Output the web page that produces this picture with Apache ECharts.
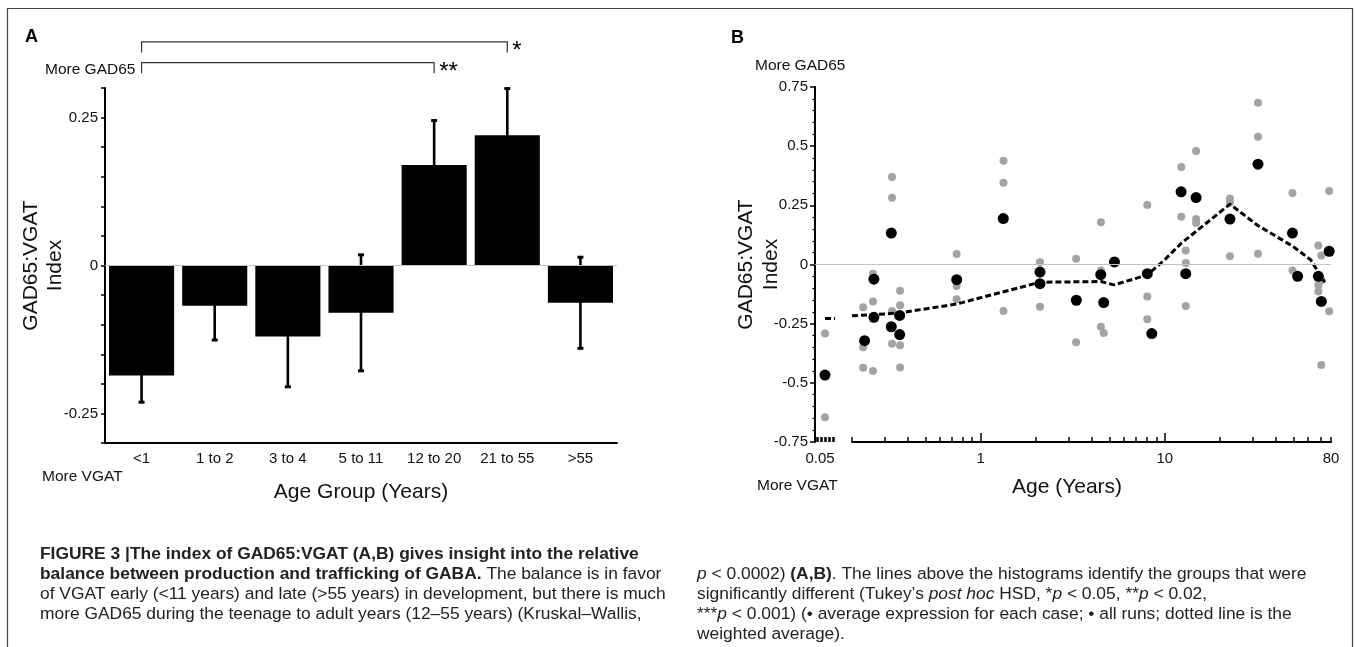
<!DOCTYPE html>
<html>
<head>
<meta charset="utf-8">
<script src="https://cdn.jsdelivr.net/npm/echarts@6/dist/echarts.min.js"></script>
<style>
  html, body { margin: 0; padding: 0; background: #fff; }
  #chart { width: 1356px; height: 647px; }
</style>
</head>
<body>
<div id="chart"></div>
<script>
// ---- panel A: group means with standard errors
const ageGroups = ["<1", "1 to 2", "3 to 4", "5 to 11", "12 to 20", "21 to 55", ">55"];
const groupMeans = [-0.186, -0.068, -0.120, -0.080, 0.170, 0.220, -0.063];
const groupErrors = [0.045, 0.058, 0.085, 0.098, 0.075, 0.079, 0.077];
// [from group, to group, height, stars]
const brackets = [
  [0, 5, 0.378, "*"],
  [0, 4, 0.343, "**"],
];

// ---- panel B: newborn segment (left of the axis break)
const newbornAge = 0.05;
const newbornRuns = [-0.292, -0.645];
const newbornCases = [-0.467];
const newbornWeighted = [[0.05, -0.228], [0.06, -0.228]];

// ---- panel B: all runs (grey) [age, index]
const runPoints = [
  [0.23, -0.181], [0.23, -0.350], [0.23, -0.436],
  [0.26, -0.039], [0.26, -0.156], [0.26, -0.450],
  [0.33, 0.370], [0.33, 0.282], [0.33, -0.196], [0.33, -0.335],
  [0.365, -0.111], [0.365, -0.172], [0.365, -0.341], [0.365, -0.435],
  [0.74, 0.044], [0.74, -0.091], [0.74, -0.147],
  [1.33, 0.438], [1.33, 0.345], [1.33, -0.196],
  [2.1, 0.010], [2.1, -0.179],
  [3.3, 0.024], [3.3, -0.329],
  [4.5, 0.178], [4.5, -0.025], [4.5, -0.263],
  [4.66, -0.289],
  [8.04, 0.251], [8.04, -0.135], [8.04, -0.231],
  [12.3, 0.412], [12.3, 0.202],
  [13.0, 0.059], [13.0, 0.006], [13.0, -0.175],
  [14.8, 0.480], [14.8, 0.192], [14.8, 0.175],
  [22.6, 0.279], [22.6, 0.262], [22.6, 0.035],
  [32.1, 0.683], [32.1, 0.540], [32.1, 0.045],
  [49.4, 0.302], [49.4, -0.025],
  [68.3, 0.080], [68.3, -0.088], [68.3, -0.114],
  [70.9, 0.038], [70.9, -0.067], [70.9, -0.425],
  [78.2, 0.311], [78.2, -0.198],
];

// ---- panel B: average for each case (black) [age, index]
const casePoints = [
  [0.234, -0.322], [0.263, -0.062], [0.263, -0.223],
  [0.327, 0.133], [0.327, -0.263], [0.363, -0.215], [0.363, -0.296],
  [0.741, -0.064], [1.327, 0.194],
  [2.1, -0.032], [2.1, -0.081], [3.31, -0.151],
  [4.49, -0.043], [4.66, -0.161], [5.33, 0.011],
  [8.04, -0.039], [8.5, -0.292],
  [12.27, 0.307], [13.0, -0.039], [14.8, 0.283],
  [22.6, 0.192], [32.1, 0.424], [49.4, 0.133],
  [52.7, -0.050], [68.3, -0.050], [70.9, -0.156], [78.2, 0.056],
];

// ---- panel B: weighted average (dotted line)
const weightedLine = [
  [0.2, -0.217], [0.26, -0.212], [0.36, -0.205], [0.74, -0.167],
  [2.1, -0.075], [4.5, -0.072], [5.3, -0.086], [8.0, -0.045],
  [10, 0.02], [12.3, 0.09], [14.8, 0.14], [22.6, 0.255],
  [32, 0.165], [49.4, 0.078], [62, 0.02], [68, -0.03], [74, -0.075],
];

const logMinorTicks = [0.2, 0.3, 0.4, 0.5, 0.6, 0.7, 0.8, 0.9, 2, 3, 4, 5, 6, 7, 8, 9, 20, 30, 40, 50, 60, 70, 80];
const logMajorTicks = [1, 10];
const logLabels = [1, 10, 80];
const breakHatch = [0.0425, 0.0465, 0.0505, 0.0545, 0.0585];

const FONT = "Liberation Sans, Arial, sans-serif";
const INK = "#111";
const RUN_GREY = "#a3a3a3";


function axisText(size) {
  return {
    color: INK,
    fontFamily: FONT,
    fontSize: size,
  };
}


function plainText(x, y, text, size, extra) {
  return {
    type: "text",
    x,
    y,
    silent: true,
    style: {
      text,
      fill: INK,
      fontFamily: FONT,
      fontSize: size,
      verticalAlign: "middle",
      ...extra,
    },
  };
}


function captionLine(x, y, text) {
  const base = {
    fontFamily: FONT,
    fontSize: 17.4,
  };

  return {
    type: "text",
    x,
    y,
    silent: true,
    style: {
      text,
      fill: "#222",
      ...base,
      verticalAlign: "middle",
      rich: {
        b: { ...base, fontWeight: "bold", fill: "#222" },
        i: { ...base, fontStyle: "italic", fill: "#222" },
      },
    },
  };
}


function zeroLine() {
  return {
    silent: true,
    symbol: "none",
    label: { show: false },
    lineStyle: { color: "#c4c4c4", width: 1.2, type: "solid" },
    data: [{ yAxis: 0 }],
  };
}


const chart = echarts.init(document.getElementById("chart"));

chart.setOption({
  animation: false,
  backgroundColor: "#fff",
  grid: [
    { left: 105, top: 88, width: 512, height: 355, outerBoundsMode: "none" },
    { left: 815, top: 87, width: 37, height: 355, outerBoundsMode: "none" },
    { left: 852, top: 87, width: 479, height: 355, outerBoundsMode: "none" },
  ],
  xAxis: [
    {
      gridIndex: 0,
      type: "category",
      data: ageGroups,
      axisLine: { onZero: false, lineStyle: { color: "#000", width: 2 } },
      axisTick: {
        inside: true,
        length: 10,
        lineStyle: { color: "#000", width: 1.5 },
      },
      axisLabel: { ...axisText(15), margin: 8 },
      name: "Age Group (Years)",
      nameLocation: "middle",
      nameGap: 49,
      nameMoveOverlap: false,
      nameTextStyle: { ...axisText(21), verticalAlign: "middle" },
    },
    {
      gridIndex: 1,
      type: "value",
      min: 0.04,
      max: 0.077,
      axisLine: { show: false, onZero: false },
      axisTick: {
        show: true,
        inside: true,
        length: 5,
        customValues: breakHatch,
        lineStyle: { color: "#000", width: 2.5 },
      },
      axisLabel: {
        ...axisText(15),
        customValues: [newbornAge],
        formatter: (v) => String(v),
        margin: 9,
        padding: [0, 10, 0, 0],
      },
      splitLine: { show: false },
    },
    {
      gridIndex: 2,
      type: "log",
      logBase: 10,
      min: 0.2,
      max: 80,
      axisLine: { onZero: false, lineStyle: { color: "#000", width: 2 } },
      axisTick: {
        inside: true,
        length: 5,
        customValues: logMinorTicks,
        lineStyle: { color: "#000", width: 1.5 },
      },
      axisLabel: {
        ...axisText(15),
        customValues: logLabels,
        margin: 9,
      },
      splitLine: { show: false },
      minorTick: { show: false },
    },
    {
      gridIndex: 2,
      type: "log",
      logBase: 10,
      min: 0.2,
      max: 80,
      position: "bottom",
      axisLine: { show: false, onZero: false },
      axisTick: {
        inside: true,
        length: 9,
        customValues: logMajorTicks,
        lineStyle: { color: "#000", width: 1.5 },
      },
      axisLabel: { show: false },
      splitLine: { show: false },
    },
  ],
  yAxis: [
    {
      gridIndex: 0,
      type: "value",
      min: -0.3,
      max: 0.3,
      interval: 0.05,
      axisLine: { show: true, onZero: false, lineStyle: { color: "#000", width: 2 } },
      axisTick: {
        show: true,
        length: 4,
        lineStyle: { color: "#000", width: 1.5 },
      },
      axisLabel: {
        ...axisText(15),
        margin: 7,
        formatter: (v) => {
          if (Math.abs(v) < 1e-9) {
            return "0";
          }
          return Math.abs(Math.abs(v) - 0.25) < 1e-9 ? String(v) : "";
        },
      },
      splitLine: { show: false },
      name: "GAD65:VGAT\nIndex",
      nameLocation: "middle",
      nameRotate: 90,
      nameGap: 62,
      nameMoveOverlap: false,
      nameTextStyle: { ...axisText(21), lineHeight: 24, verticalAlign: "middle" },
    },
    {
      gridIndex: 1,
      type: "value",
      min: -0.75,
      max: 0.75,
      interval: 0.25,
      axisLine: { show: true, onZero: false, lineStyle: { color: "#000", width: 2 } },
      axisTick: {
        show: true,
        length: 5,
        lineStyle: { color: "#000", width: 1.5 },
      },
      minorTick: {
        show: true,
        splitNumber: 5,
        length: 2.5,
        lineStyle: { color: "#000", width: 1.2 },
      },
      axisLabel: {
        ...axisText(15),
        margin: 7,
        formatter: (v) => String(v),
      },
      splitLine: { show: false },
      name: "GAD65:VGAT\nIndex",
      nameLocation: "middle",
      nameRotate: 90,
      nameGap: 56,
      nameMoveOverlap: false,
      nameTextStyle: { ...axisText(21), lineHeight: 25, verticalAlign: "middle" },
    },
    {
      gridIndex: 2,
      type: "value",
      min: -0.75,
      max: 0.75,
      interval: 0.25,
      show: false,
    },
  ],
  series: [
    // panel A bars
    {
      type: "bar",
      xAxisIndex: 0,
      yAxisIndex: 0,
      data: groupMeans,
      barCategoryGap: "11%",
      itemStyle: { color: "#000" },
      z: 2,
      markLine: zeroLine(),
    },
    // panel A error bars
    {
      type: "custom",
      xAxisIndex: 0,
      yAxisIndex: 0,
      z: 3,
      data: groupMeans.map((m, i) => [i, m - groupErrors[i], m + groupErrors[i]]),
      renderItem: (params, api) => {
        const low = api.coord([api.value(0), api.value(1)]);
        const high = api.coord([api.value(0), api.value(2)]);
        const capW = 6;
        const capH = 3;

        return {
          type: "group",
          children: [
            {
              type: "line",
              shape: { x1: low[0], y1: low[1], x2: high[0], y2: high[1] },
              style: { stroke: "#000", lineWidth: 2.6 },
            },
            {
              type: "rect",
              shape: { x: low[0] - capW / 2, y: low[1] - capH / 2, width: capW, height: capH },
              style: { fill: "#000" },
            },
            {
              type: "rect",
              shape: { x: high[0] - capW / 2, y: high[1] - capH / 2, width: capW, height: capH },
              style: { fill: "#000" },
            },
          ],
        };
      },
    },
    // panel A significance brackets
    {
      type: "custom",
      xAxisIndex: 0,
      yAxisIndex: 0,
      clip: false,
      z: 3,
      data: brackets.map((b) => [b[0], b[1], b[2]]),
      renderItem: (params, api) => {
        const a = api.coord([api.value(0), api.value(2)]);
        const b = api.coord([api.value(1), api.value(2)]);
        const drop = api.size([0, 0.018])[1];
        const stars = brackets[params.dataIndex][3];

        return {
          type: "group",
          children: [
            {
              type: "polyline",
              shape: {
                points: [
                  [a[0], a[1] + drop],
                  [a[0], a[1]],
                  [b[0], b[1]],
                  [b[0], b[1] + drop],
                ],
              },
              style: { stroke: "#333", lineWidth: 1.2, fill: null },
            },
            {
              type: "text",
              x: b[0] + 5,
              y: b[1] + 10,
              style: {
                text: stars,
                fill: "#000",
                fontFamily: FONT,
                fontSize: 24,
                verticalAlign: "middle",
              },
            },
          ],
        };
      },
    },
    // panel B newborn segment
    {
      type: "scatter",
      xAxisIndex: 1,
      yAxisIndex: 1,
      data: newbornRuns.map((v) => [newbornAge, v]),
      symbolSize: 8,
      itemStyle: { color: RUN_GREY, opacity: 1 },
      z: 2,
      markLine: zeroLine(),
    },
    {
      type: "line",
      xAxisIndex: 1,
      yAxisIndex: 1,
      data: newbornWeighted,
      showSymbol: false,
      lineStyle: { color: "#000", width: 3, type: [6, 3] },
      z: 3,
    },
    {
      type: "scatter",
      xAxisIndex: 1,
      yAxisIndex: 1,
      data: newbornCases.map((v) => [newbornAge, v]),
      symbolSize: 11,
      itemStyle: { color: "#000", opacity: 1 },
      z: 4,
    },
    // panel B main segment
    {
      type: "scatter",
      xAxisIndex: 2,
      yAxisIndex: 2,
      data: runPoints,
      symbolSize: 8,
      itemStyle: { color: RUN_GREY, opacity: 1 },
      z: 2,
      markLine: zeroLine(),
    },
    {
      type: "line",
      xAxisIndex: 2,
      yAxisIndex: 2,
      data: weightedLine,
      showSymbol: false,
      lineStyle: { color: "#000", width: 3, type: [6, 3] },
      z: 3,
    },
    {
      type: "scatter",
      xAxisIndex: 2,
      yAxisIndex: 2,
      data: casePoints,
      symbolSize: 11,
      itemStyle: { color: "#000", opacity: 1 },
      z: 4,
    },
  ],
  graphic: [
    {
      type: "polyline",
      silent: true,
      shape: { points: [[7.5, 647], [7.5, 8.5], [1352.5, 8.5], [1352.5, 647]] },
      style: { stroke: "#444", lineWidth: 1.2, fill: null },
    },
    plainText(25, 37, "A", 18, { fontWeight: "bold", fill: "#000" }),
    plainText(731, 38, "B", 18, { fontWeight: "bold", fill: "#000" }),
    plainText(45, 70, "More GAD65", 15.5),
    plainText(42, 477, "More VGAT", 15.5),
    plainText(755, 66, "More GAD65", 15.5),
    plainText(757, 486, "More VGAT", 15.5),
    plainText(1067, 487, "Age (Years)", 21, { align: "center" }),
    captionLine(40, 554, "{b|FIGURE 3 |The index of GAD65:VGAT (A,B) gives insight into the relative}"),
    captionLine(40, 574, "{b|balance between production and trafficking of GABA.} The balance is in favor"),
    captionLine(40, 594, "of VGAT early (<11 years) and late (>55 years) in development, but there is much"),
    captionLine(40, 614, "more GAD65 during the teenage to adult years (12\u201355 years) (Kruskal\u2013Wallis,"),
    captionLine(697, 574, "{i|p} < 0.0002) {b|(A,B)}. The lines above the histograms identify the groups that were"),
    captionLine(697, 594, "significantly different (Tukey\u2019s {i|post hoc} HSD, *{i|p} < 0.05, **{i|p} < 0.02,"),
    captionLine(697, 614, "***{i|p} < 0.001) (\u2022 average expression for each case; \u2022 all runs; dotted line is the"),
    captionLine(697, 634, "weighted average)."),
  ],
});
</script>
</body>
</html>
